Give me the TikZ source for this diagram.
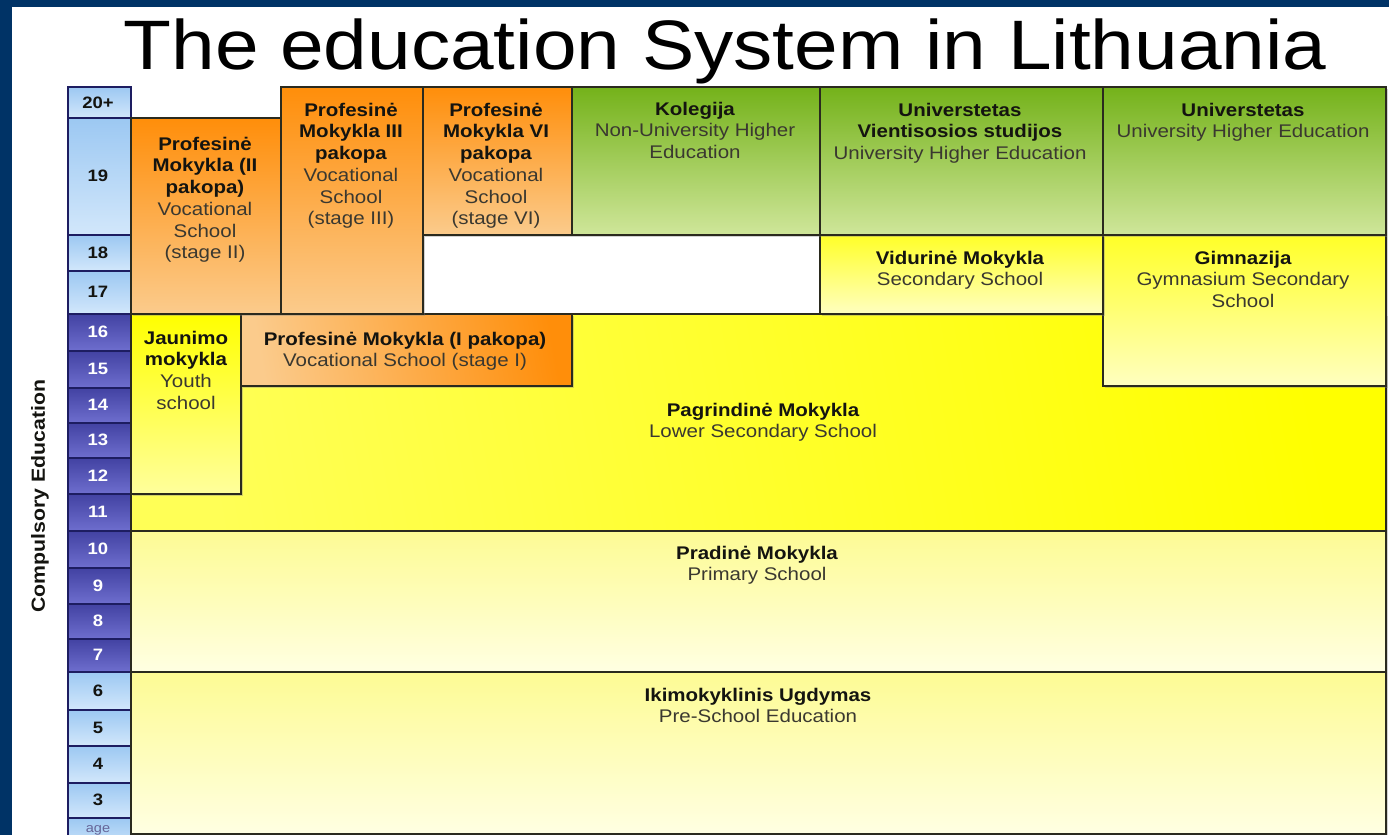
\documentclass[tikz,border=0pt]{standalone}
\usepackage{fontspec}
\setmainfont[FakeStretch=1.12]{Liberation Sans}
\usetikzlibrary{shadows}
\definecolor{navy}{HTML}{003366}
\definecolor{edge}{HTML}{2A2A1E}
\definecolor{txtb}{HTML}{141410}
\definecolor{txtr}{HTML}{3A3830}
\definecolor{orD}{HTML}{FF8E0A}
\definecolor{orL}{HTML}{FBCB8C}
\definecolor{grD}{HTML}{74B21A}
\definecolor{grL}{HTML}{CFE69A}
\definecolor{yeD}{HTML}{FFFF00}
\definecolor{yeL}{HTML}{FFFF9C}
\definecolor{ylD}{HTML}{FFFF28}
\definecolor{ylL}{HTML}{FFFFC0}
\definecolor{paD}{HTML}{FDFB94}
\definecolor{paL}{HTML}{FFFFE2}
\definecolor{lbD}{HTML}{9CC8F2}
\definecolor{lbL}{HTML}{D2E7FB}
\definecolor{dbD}{HTML}{4242A2}
\definecolor{dbL}{HTML}{6E6ECE}
\newcommand\cell[6]{\node[cellbase,#6,anchor=north west,minimum width={(#4-#2)*1pt},minimum height={(#5-#3)*1pt}] (#1) at (#2,#3) {};}
\newcommand\lab[4]{\node[lbl,anchor=north] (#1) at (#2,{#3-17}) {\rule{0pt}{17pt}#4};}
\newcommand\bl[1]{{\bfseries\color{txtb}#1}}
\newcommand\age[4]{\node[agetxt,#4] (#1) at (98,#2) {#3};}
\begin{document}
\begin{tikzpicture}[x=1pt,y=-1pt,
  cellbase/.style={draw=edge,line width=2pt,inner sep=0pt,shading=axis,shading angle=-45,
    drop shadow={shadow xshift=1.5pt,shadow yshift=-2pt,opacity=0.35}},
  orange/.style={top color=orD,bottom color=orL},
  green/.style={top color=grD,bottom color=grL},
  yellow/.style={top color=yeD,bottom color=yeL},
  ylight/.style={top color=ylD,bottom color=ylL},
  pale/.style={top color=paD,bottom color=paL},
  agelight/.style={draw=edge!70!blue,line width=1.6pt,top color=lbD,bottom color=lbL,shading angle=0},
  agedark/.style={draw=edge!70!blue,line width=1.6pt,top color=dbD,bottom color=dbL,shading angle=0},
  lbl/.style={inner sep=0pt,align=center,text=txtr,font=\fontsize{18.3}{21.7}\selectfont},
  agetxt/.style={inner sep=0pt,anchor=base,font=\bfseries\fontsize{16.5}{18}\selectfont},
  wnum/.style={text=white},
  knum/.style={text=txtb}]
\useasboundingbox (0,0) rectangle (1389,835);
\fill[navy] (0,0) rectangle (1389,835);
\fill[white] (12,7) rectangle (1389,835);
\node[anchor=base,inner sep=0pt,font=\fontsize{70}{80}\selectfont] (title) at (725,69) {The education System in Lithuania};
\node[rotate=90,inner sep=0pt,font=\bfseries\fontsize{19}{22}\selectfont,text=txtb] (comp) at (40,496) {Compulsory Education};
% age column
\cell{b20}{67}{86}{130}{117}{agelight}
\cell{b19}{67}{117}{130}{234}{agelight}
\cell{b18}{67}{234}{130}{270}{agelight}
\cell{b17}{67}{270}{130}{313}{agelight}
\cell{b16}{67}{313}{130}{350}{agedark}
\cell{b15}{67}{350}{130}{387}{agedark}
\cell{b14}{67}{387}{130}{422}{agedark}
\cell{b13}{67}{422}{130}{457}{agedark}
\cell{b12}{67}{457}{130}{493}{agedark}
\cell{b11}{67}{493}{130}{530}{agedark}
\cell{b10}{67}{530}{130}{567}{agedark}
\cell{b9}{67}{567}{130}{603}{agedark}
\cell{b8}{67}{603}{130}{638}{agedark}
\cell{b7}{67}{638}{130}{671}{agedark}
\cell{b6}{67}{671}{130}{709}{agelight}
\cell{b5}{67}{709}{130}{745}{agelight}
\cell{b4}{67}{745}{130}{782}{agelight}
\cell{b3}{67}{782}{130}{817}{agelight}
\cell{bage}{67}{817}{130}{850}{agelight}
\age{n20}{108}{20+}{knum}
\age{n19}{181}{19}{knum}
\age{n18}{258}{18}{knum}
\age{n17}{297}{17}{knum}
\age{n16}{337}{16}{wnum}
\age{n15}{374}{15}{wnum}
\age{n14}{410}{14}{wnum}
\age{n13}{445}{13}{wnum}
\age{n12}{481}{12}{wnum}
\age{n11}{517}{11}{wnum}
\age{n10}{554}{10}{wnum}
\age{n9}{591}{9}{wnum}
\age{n8}{626}{8}{wnum}
\age{n7}{660}{7}{wnum}
\age{n6}{696}{6}{knum}
\age{n5}{733}{5}{knum}
\age{n4}{769}{4}{knum}
\age{n3}{805}{3}{knum}
\node[inner sep=0pt,anchor=base,font=\fontsize{13}{14}\selectfont,text=gray!80!blue] (nage) at (98,832) {age};
% main boxes
\cell{pagr}{130}{313}{1385}{530}{yellow,top color=yeD,bottom color=yeL!55!yeD,shading angle=-80}
\cell{prad}{130}{530}{1385}{671}{pale}
\cell{ikim}{130}{671}{1385}{833}{pale}
\cell{jaun}{130}{313}{240}{493}{yellow}
\cell{prof1}{240}{313}{571}{385}{orange,shading angle=-80}
\cell{gimn}{1102}{234}{1385}{385}{ylight}
\cell{vidur}{819}{234}{1102}{313}{ylight}
\cell{prof2}{130}{117}{280}{313}{orange}
\cell{prof3}{280}{86}{422}{313}{orange}
\cell{prof6}{422}{86}{571}{234}{orange}
\cell{koleg}{571}{86}{819}{234}{green}
\cell{univA}{819}{86}{1102}{234}{green}
\cell{univB}{1102}{86}{1385}{234}{green}
% labels
\lab{tprof2}{205}{150}{\bl{Profesinė}\\\bl{Mokykla (II}\\\bl{pakopa)}\\Vocational\\School\\(stage II)}
\lab{tprof3}{351}{116}{\bl{Profesinė}\\\bl{Mokykla III}\\\bl{pakopa}\\Vocational\\School\\(stage III)}
\lab{tprof6}{496}{116}{\bl{Profesinė}\\\bl{Mokykla VI}\\\bl{pakopa}\\Vocational\\School\\(stage VI)}
\lab{tkoleg}{695}{115}{\bl{Kolegija}\\Non-University Higher\\Education}
\lab{tunivA}{960}{116}{\bl{Universtetas}\\\bl{Vientisosios studijos}\\University Higher Education}
\lab{tunivB}{1243}{116}{\bl{Universtetas}\\University Higher Education}
\lab{tvidur}{960}{264}{\bl{Vidurinė Mokykla}\\Secondary School}
\lab{tgimn}{1243}{264}{\bl{Gimnazija}\\Gymnasium Secondary\\School}
\lab{tjaun}{186}{344}{\bl{Jaunimo}\\\bl{mokykla}\\Youth\\school}
\lab{tprof1}{405}{345}{\bl{Profesinė Mokykla (I pakopa)}\\Vocational School (stage I)}
\lab{tpagr}{763}{416}{\bl{Pagrindinė Mokykla}\\Lower Secondary School}
\lab{tprad}{757}{559}{\bl{Pradinė Mokykla}\\Primary School}
\lab{tikim}{758}{701}{\bl{Ikimokyklinis Ugdymas}\\Pre-School Education}
\end{tikzpicture}
\end{document}
